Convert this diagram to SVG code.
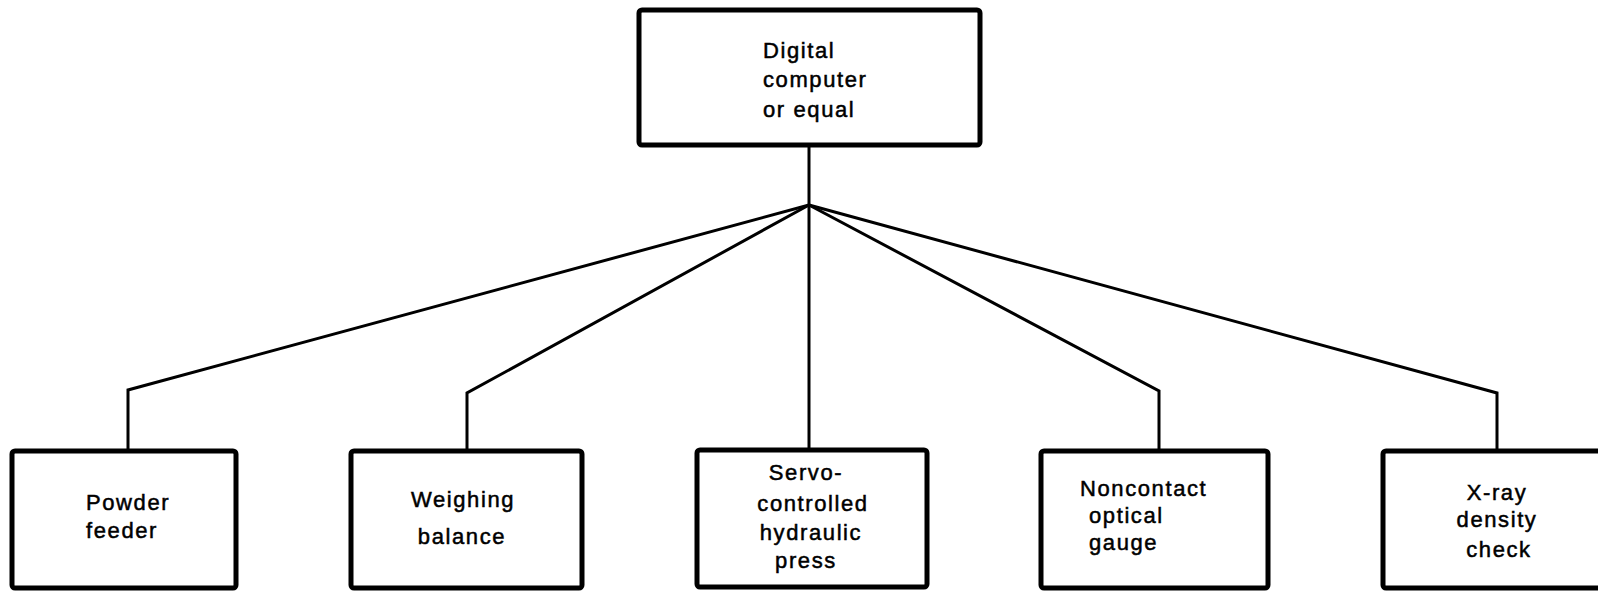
<svg xmlns="http://www.w3.org/2000/svg" width="1598" height="592" viewBox="0 0 1598 592">
<style>
.box{fill:#fff;stroke:#000;stroke-width:5}
.wire{fill:none;stroke:#000;stroke-width:3;stroke-linejoin:miter}
.lbl{font-family:"Liberation Sans",Arial,sans-serif;font-size:22px;letter-spacing:1.6px;fill:#000;stroke:#000;stroke-width:0.5}
.c{text-anchor:middle}
</style>
<rect width="1598" height="592" fill="#fff"/>
<g id="connectors">
<path class="wire" d="M809,147 V205"/>
<path class="wire" d="M809,205 L128,390 V451"/>
<path class="wire" d="M809,205 L467,393 V451"/>
<path class="wire" d="M809,205 V451"/>
<path class="wire" d="M809,205 L1159,391 V451"/>
<path class="wire" d="M809,205 L1497,393 V451"/>
</g>
<g id="computer">
<rect class="box" x="639" y="10" width="341" height="135" rx="3"/>
<text class="lbl" x="763" y="58">Digital</text>
<text class="lbl" x="763" y="87">computer</text>
<text class="lbl" x="763" y="117">or equal</text>
</g>
<g id="powder-feeder">
<rect class="box" x="12" y="451" width="224" height="137" rx="3"/>
<text class="lbl" x="86" y="510">Powder</text>
<text class="lbl" x="86" y="538">feeder</text>
</g>
<g id="weighing-balance">
<rect class="box" x="351" y="451" width="231" height="137" rx="3"/>
<text class="lbl c" x="463" y="507">Weighing</text>
<text class="lbl c" x="462" y="544">balance</text>
</g>
<g id="hydraulic-press">
<rect class="box" x="697" y="450" width="230" height="137" rx="3"/>
<text class="lbl c" x="806" y="480">Servo-</text>
<text class="lbl c" x="813" y="511">controlled</text>
<text class="lbl c" x="811" y="540">hydraulic</text>
<text class="lbl c" x="806" y="568">press</text>
</g>
<g id="optical-gauge">
<rect class="box" x="1041" y="451" width="227" height="137" rx="3"/>
<text class="lbl" x="1080" y="496">Noncontact</text>
<text class="lbl" x="1089" y="523">optical</text>
<text class="lbl" x="1089" y="550">gauge</text>
</g>
<g id="xray-check">
<rect class="box" x="1383" y="451" width="230" height="137" rx="3"/>
<text class="lbl c" x="1497" y="500">X-ray</text>
<text class="lbl c" x="1497" y="527">density</text>
<text class="lbl c" x="1499" y="557">check</text>
</g>
</svg>
